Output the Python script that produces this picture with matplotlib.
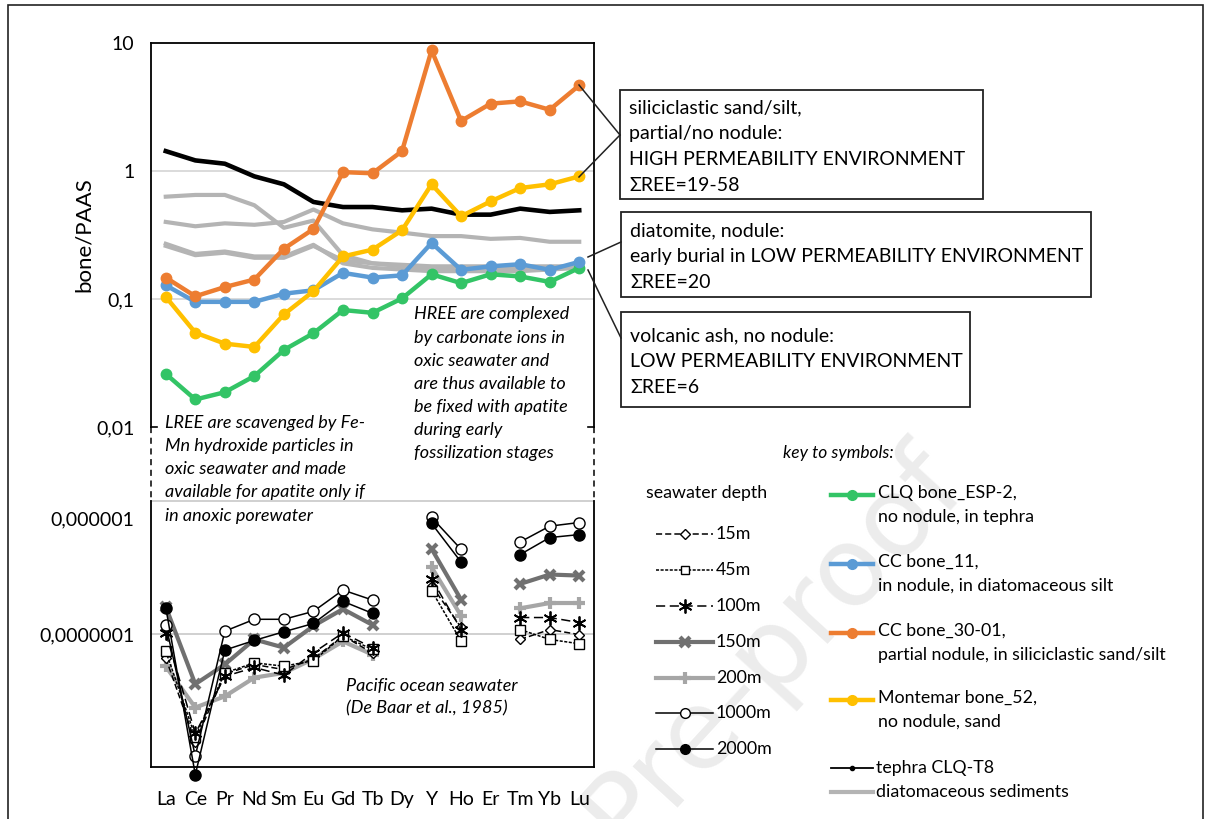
import numpy as np
import matplotlib
matplotlib.use("Agg")
import matplotlib.pyplot as plt
from matplotlib.lines import Line2D
from matplotlib.patches import Rectangle
from matplotlib.transforms import ScaledTranslation

plt.rcParams['font.family'] = ['Lato', 'DejaVu Sans']

# REE categories (Pm omitted)
elements = ['La', 'Ce', 'Pr', 'Nd', 'Sm', 'Eu', 'Gd', 'Tb', 'Dy', 'Y', 'Ho', 'Er', 'Tm', 'Yb', 'Lu']

# bone / PAAS (upper panel)
clq_esp2 = [0.026, 0.0164, 0.0187, 0.025, 0.040, 0.054, 0.082, 0.078, 0.101, 0.156, 0.133, 0.156, 0.150, 0.136, 0.175]
cc_11 = [0.128, 0.095, 0.095, 0.095, 0.110, 0.117, 0.160, 0.147, 0.153, 0.274, 0.169, 0.180, 0.187, 0.169, 0.195]
cc_30_01 = [0.147, 0.105, 0.124, 0.142, 0.247, 0.352, 0.98, 0.96, 1.43, 8.77, 2.46, 3.36, 3.5, 3.01, 4.67]
montemar_52 = [0.104, 0.0546, 0.0448, 0.0422, 0.0758, 0.115, 0.215, 0.243, 0.344, 0.787, 0.443, 0.579, 0.736, 0.787, 0.908]
tephra_t8 = [1.43, 1.21, 1.14, 0.908, 0.787, 0.573, 0.523, 0.523, 0.493, 0.508, 0.456, 0.456, 0.508, 0.479, 0.493]

# diatomaceous sediments
diat_a = [0.63, 0.65, 0.65, 0.54, 0.36, 0.41, 0.22, 0.19, 0.18, 0.175, 0.17, 0.17, 0.17, 0.17, 0.18]
diat_b = [0.40, 0.37, 0.39, 0.38, 0.40, 0.50, 0.39, 0.35, 0.33, 0.31, 0.31, 0.295, 0.30, 0.28, 0.28]
diat_c = [0.26, 0.22, 0.23, 0.21, 0.21, 0.26, 0.20, 0.19, 0.185, 0.18, 0.18, 0.18, 0.18, 0.18, 0.18]
diat_d = [0.27, 0.225, 0.235, 0.215, 0.215, 0.265, 0.19, 0.175, 0.17, 0.165, 0.165, 0.165, 0.165, 0.17, 0.175]

# Pacific seawater (De Baar et al., 1985), no Dy / Er
nan = np.nan
sw_15 = [6.6e-8, 1.55e-8, 5.0e-8, 5.9e-8, 5.4e-8, 6.5e-8, 9.7e-8, 7.2e-8, nan, 2.31e-7, 1.12e-7, nan, 9.1e-8, 1.08e-7, 9.9e-8]
sw_45 = [7.43e-8, 1.69e-8, 5.1e-8, 6.07e-8, 5.73e-8, 6.3e-8, 9.66e-8, 7.66e-8, nan, 2.12e-7, 8.85e-8, nan, 1.08e-7, 9.1e-8, 8.45e-8]
sw_100 = [1.02e-7, 1.79e-8, 4.8e-8, 5.6e-8, 4.9e-8, 7.23e-8, 1.02e-7, 7.87e-8, nan, 2.6e-7, 1.08e-7, nan, 1.33e-7, 1.33e-7, 1.22e-7]
sw_150 = [1.6e-7, 4.2e-8, 5.9e-8, 9.1e-8, 7.9e-8, 1.15e-7, 1.54e-7, 1.17e-7, nan, 4.37e-7, 1.81e-7, nan, 2.38e-7, 2.8e-7, 2.75e-7]
sw_200 = [5.7e-8, 2.8e-8, 3.4e-8, 4.7e-8, 5.1e-8, 6.5e-8, 8.8e-8, 7.0e-8, nan, 3.18e-7, 1.37e-7, nan, 1.56e-7, 1.71e-7, 1.71e-7]
sw_1000 = [1.17e-7, 1.21e-8, 1.05e-7, 1.29e-7, 1.29e-7, 1.48e-7, 2.14e-7, 1.80e-7, nan, 7.52e-7, 4.33e-7, nan, 4.92e-7, 6.47e-7, 6.89e-7]
sw_2000 = [1.58e-7, 8.75e-9, 7.57e-8, 8.95e-8, 1.04e-7, 1.20e-7, 1.76e-7, 1.43e-7, nan, 6.78e-7, 3.47e-7, nan, 3.96e-7, 5.31e-7, 5.59e-7]

GREEN = '#33c466'
BLUE = '#5b9bd5'
ORANGE = '#ed7d31'
GOLD = '#ffc000'
DIAT = '#b4b4b4'
DGREY = '#707070'
LGREY = '#a6a6a6'

W, H = 1212, 819
def fx(x):
    return x / W
def fy(y):
    return 1 - y / H

fig = plt.figure(figsize=(W / 100, H / 100), dpi=100)
x = np.arange(len(elements))

# outer frame
fig.add_artist(Rectangle((fx(8), fy(830)), fx(1203) - fx(8), fy(5) - fy(830),
                         transform=fig.transFigure, fill=False, ec='#222222', lw=1.2))

# watermark (behind everything)
fig.text(fx(772), fy(648), 'Pre-proof', rotation=47.5, fontsize=80, color='#ececec',
         ha='center', va='center', zorder=-5, family='DejaVu Sans',
         rotation_mode='anchor')

# ---- upper panel
ax1 = fig.add_axes([fx(151), fy(427), fx(594) - fx(151), fy(43) - fy(427)])
ax1.patch.set_alpha(0)
ax1.set_yscale('log')
ax1.set_ylim(0.01, 10)
ax1.set_xlim(-0.5, len(elements) - 0.5)
for v in [0.1, 1]:
    ax1.axhline(v, color='#d4d4d4', lw=1.2, zorder=1)
for s in [diat_a, diat_b, diat_c, diat_d]:
    ax1.plot(x, s, color=DIAT, lw=3, zorder=2, solid_joinstyle='round')
ax1.plot(x, tephra_t8, color='black', lw=3.3, zorder=3)
for s, c in [(clq_esp2, GREEN), (cc_11, BLUE), (cc_30_01, ORANGE), (montemar_52, GOLD)]:
    ax1.plot(x, s, color=c, lw=3.2, marker='o', ms=7.5, zorder=4, clip_on=False)
ax1.set_yticks([0.01, 0.1, 1, 10])
ax1.set_yticklabels(['0,01', '0,1', '1', '10'])
ax1.yaxis.set_minor_locator(matplotlib.ticker.NullLocator())
ax1.tick_params(axis='y', length=0, pad=12, labelsize=14)
ax1.set_xticks([])
ax1.spines['bottom'].set_visible(False)
for sp in ['top', 'left', 'right']:
    ax1.spines[sp].set_linewidth(1.3)
ax1.set_ylabel('bone/PAAS', fontsize=16)
ax1.yaxis.set_label_coords(-0.128, 0.5)

ax1.text(0.593, 0.314,
         'HREE are complexed\nby carbonate ions in\noxic seawater and\nare thus available to\n'
         'be fixed with apatite\nduring early\nfossilization stages',
         transform=ax1.transAxes, ha='left', va='top', fontsize=13, style='italic',
         linespacing=1.55, zorder=5)

# ---- lower panel
ax2 = fig.add_axes([fx(151), fy(767), fx(594) - fx(151), fy(501) - fy(767)])
ax2.patch.set_alpha(0)
ax2.set_yscale('log')
ax2.set_ylim(1e-8, 1e-6)
ax2.set_xlim(-0.5, len(elements) - 0.5)
for v in [1e-7, 1e-6]:
    ax2.axhline(v, color='#c8c8c8', lw=1.2, zorder=1, clip_on=False)

ax2.plot(x, sw_200, color=LGREY, lw=3, marker='+', ms=8, mew=3, zorder=2, clip_on=False)
ax2.plot(x, sw_150, color=DGREY, lw=3, marker='x', ms=7, mew=3, zorder=2, clip_on=False)
ax2.plot(x, sw_15, color='black', lw=1.1, ls=(0, (4, 2)), marker='D', ms=5, mfc='white',
         mew=1, zorder=3, clip_on=False)
ax2.plot(x, sw_45, color='black', lw=1.1, ls=(0, (2, 1)), marker='s', ms=7, mfc='white',
         mew=1, zorder=3, clip_on=False)
ax2.plot(x, sw_100, color='black', lw=1.1, ls=(0, (6, 3)), marker=(6, 2, 0), ms=10,
         mew=1.3, zorder=3, clip_on=False)
ax2.plot(x, sw_1000, color='black', lw=1.1, marker='o', ms=8, mfc='white', mew=1,
         zorder=4, clip_on=False)
ax2.plot(x, sw_2000, color='black', lw=1.1, marker='o', ms=8, mfc='black', zorder=4,
         clip_on=False)

ax2.set_yticks([1e-7, 1e-6])
ax2.set_yticklabels(['0,0000001', '0,000001'])
ax2.yaxis.set_minor_locator(matplotlib.ticker.NullLocator())
ax2.tick_params(axis='y', length=0, pad=12, labelsize=14)
lab = ax2.get_yticklabels()[1]
lab.set_transform(lab.get_transform() + ScaledTranslation(0, -0.17, fig.dpi_scale_trans))
ax2.set_xticks(x)
ax2.set_xticklabels(elements)
ax2.tick_params(axis='x', length=0, pad=17, labelsize=14)
ax2.spines['top'].set_visible(False)
for sp in ['bottom', 'left', 'right']:
    ax2.spines[sp].set_linewidth(1.3)

ax2.text(0.44, 0.335, 'Pacific ocean seawater\n(De Baar et al., 1985)',
         transform=ax2.transAxes, ha='left', va='top', fontsize=13, style='italic',
         linespacing=1.5)

# LREE note between the panels
fig.text(fx(165), fy(415), 'LREE are scavenged by Fe-\nMn hydroxide particles in\n'
         'oxic seawater and made\navailable for apatite only if\nin anoxic porewater',
         ha='left', va='top', fontsize=13, style='italic', linespacing=1.55)

# dashed gap between the panels + stubs
for xx in [151, 594]:
    fig.add_artist(Line2D([fx(xx), fx(xx)], [fy(427), fy(501)], transform=fig.transFigure,
                          color='black', lw=1.1, ls=(0, (4, 3))))
fig.add_artist(Line2D([fx(151), fx(157)], [fy(427), fy(427)], transform=fig.transFigure,
                      color='black', lw=1.2))
fig.add_artist(Line2D([fx(588), fx(594)], [fy(427), fy(427)], transform=fig.transFigure,
                      color='black', lw=1.2))

# ---- text boxes
boxes = [
    ((620, 90, 983, 199), ['siliciclastic sand/silt,', 'partial/no nodule:',
                           'HIGH PERMEABILITY ENVIRONMENT', 'ΣREE=19-58']),
    ((621, 212, 1091, 297), ['diatomite, nodule:',
                             'early burial in LOW PERMEABILITY ENVIRONMENT', 'ΣREE=20']),
    ((621, 312, 970, 407), ['volcanic ash, no nodule:', 'LOW PERMEABILITY ENVIRONMENT',
                            'ΣREE=6']),
]
for (x0, y0, x1, y1), lines in boxes:
    fig.add_artist(Rectangle((fx(x0), fy(y1)), fx(x1) - fx(x0), fy(y0) - fy(y1),
                             transform=fig.transFigure, fill=False, ec='#222222', lw=1.3))
    fig.text(fx(x0 + 9), fy((y0 + y1) / 2 + 2), '\n'.join(lines), ha='left', va='center',
             fontsize=14, linespacing=1.62)

connectors = [((579, 85), (620, 135)), ((579, 177), (620, 135)),
              ((588, 257), (621, 242)), ((588, 270), (621, 338))]
for (xa, ya), (xb, yb) in connectors:
    fig.add_artist(Line2D([fx(xa), fx(xb)], [fy(ya), fy(yb)], transform=fig.transFigure,
                          color='#222222', lw=1.1))

# ---- key to symbols
fig.text(fx(838), fy(453), 'key to symbols:', ha='center', va='center', fontsize=12.5,
         style='italic')
fig.text(fx(646), fy(493), 'seawater depth', ha='left', va='center', fontsize=12.8)

def handle(xa, xb, y, **kw):
    xm = (xa + xb) / 2
    fig.add_artist(Line2D([fx(xa), fx(xm), fx(xb)], [fy(y)] * 3, transform=fig.transFigure,
                          markevery=[1], **kw))

depth_keys = [
    ('15m', 534, dict(color='black', lw=1.1, ls=(0, (4, 2)), marker='D', ms=5, mfc='white', mew=1)),
    ('45m', 570, dict(color='black', lw=1.1, ls=(0, (2, 1)), marker='s', ms=6, mfc='white', mew=1)),
    ('100m', 606, dict(color='black', lw=1.1, ls=(0, (6, 3)), marker=(6, 2, 0), ms=10, mew=1.3)),
    ('150m', 642, dict(color=DGREY, lw=3, marker='x', ms=7, mew=3)),
    ('200m', 678, dict(color=LGREY, lw=3, marker='+', ms=8, mew=3)),
    ('1000m', 713, dict(color='black', lw=1.1, marker='o', ms=7, mfc='white', mew=1)),
    ('2000m', 749, dict(color='black', lw=1.1, marker='o', ms=7, mfc='black')),
]
for name, yy, kw in depth_keys:
    handle(656, 713, yy, **kw)
    fig.text(fx(716), fy(yy), name, ha='left', va='center', fontsize=12.8)

bone_keys = [
    ('CLQ bone_ESP-2,\nno nodule, in tephra', 495, GREEN),
    ('CC bone_11,\nin nodule, in diatomaceous silt', 564, BLUE),
    ('CC bone_30-01,\npartial nodule, in siliciclastic sand/silt', 633, ORANGE),
    ('Montemar bone_52,\nno nodule, sand', 700, GOLD),
]
for name, yy, c in bone_keys:
    handle(831, 873, yy, color=c, lw=3.2, marker='o', ms=7)
    fig.text(fx(878), fy(yy) + 0.0125, name, ha='left', va='top', fontsize=12.8,
             linespacing=1.62)
handle(831, 873, 768, color='black', lw=1.3, marker='o', ms=3)
fig.text(fx(876), fy(768), 'tephra CLQ-T8', ha='left', va='center', fontsize=12.8)
handle(831, 873, 792, color=DIAT, lw=3)
fig.text(fx(876), fy(792), 'diatomaceous sediments', ha='left', va='center', fontsize=12.8)

fig.savefig('out.png', dpi=100)
